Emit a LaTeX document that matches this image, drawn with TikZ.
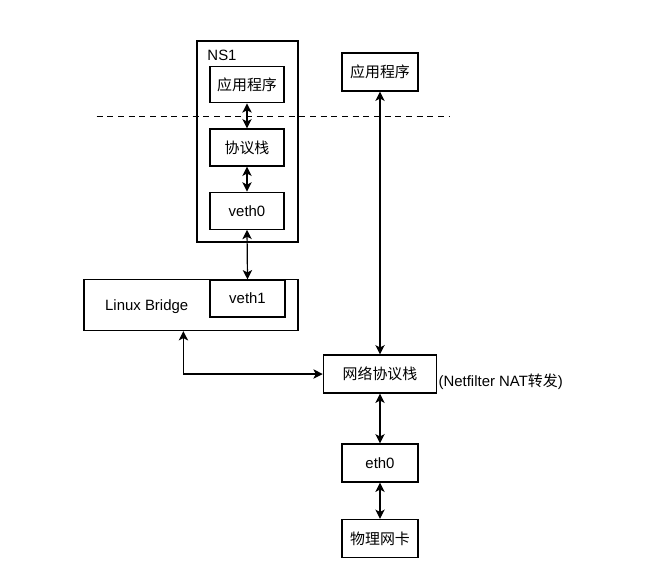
\documentclass[tikz,border=0pt]{standalone}
\usepackage{fontspec}
\setmainfont{Liberation Sans}
\newfontfamily\cjk{Noto Sans CJK SC}
\usetikzlibrary{arrows.meta,calc}
\begin{document}
\begin{tikzpicture}[x=0.75pt,y=-0.75pt,
  line width=0.9pt,
  every node/.style={font=\fontsize{11.2pt}{13pt}\selectfont},
  box/.style={draw,inner sep=0pt,minimum width=#1},
  box/.default={56pt},
  arr/.style={{Stealth[length=7pt,width=7pt,inset=1.8pt]}-{Stealth[length=7pt,width=7pt,inset=1.8pt]}},
  lbl/.style={inner sep=0pt}]
\useasboundingbox (0,0) rectangle (645,586);
\fill[white] (0,0) rectangle (645,586);
% NS1
\node[box=75.75pt,minimum height=150.75pt] (ns1) at (247.5,141.5) {};
\node[lbl] (ns1lbl) at (222,55) {NS1};
\node[box=55.5pt,minimum height=27pt] (app1) at (247,84.7) {\cjk 应用程序};
\node[box=55.5pt,minimum height=27.75pt] (stack1) at (247,147.5) {\cjk 协议栈};
\node[box=55.5pt,minimum height=27.75pt] (veth0) at (247,210.7) {veth0};
% dashed line
\coordinate (dl) at (96.7,116.7);
\coordinate (dr) at (450,116.7);
\draw[line width=0.8pt,dash pattern=on 4.5pt off 3.5pt] (dl) -- (dr);
% bridge
\node[box=160.5pt,minimum height=38.25pt] (bridge) at (191,305) {};
\node[lbl] (brlbl) at (146.7,306.7) {Linux Bridge};
\node[box=56.25pt,minimum height=27.75pt] (veth1) at (247.5,298.5) {veth1};
% right column
\node[box=57pt,minimum height=28.5pt] (app2) at (380,72) {\cjk 应用程序};
\node[box=85pt,minimum height=28.5pt] (net) at (380,374) {\cjk 网络协议栈};
\node[lbl,anchor=west] (nat) at (438,381.7) {(Netfilter NAT{\cjk 转发})};
\node[box=57pt,minimum height=28.5pt] (eth0) at (380,463) {eth0};
\node[box=57pt,minimum height=28.5pt] (nic) at (380,538.5) {\cjk 物理网卡};
% arrows
\draw[arr] (app1.south) -- (stack1.north);
\draw[arr] (stack1.south) -- (veth0.north);
\draw[arr] (veth0.south) -- (veth1.north);
\draw[arr] (net.north) -- (app2.south);
\draw[arr] (net.south) -- (eth0.north);
\draw[arr] (eth0.south) -- (nic.north);
\draw[arr] ([xshift=75pt]bridge.south west) |- (net.west);
\end{tikzpicture}
\end{document}
